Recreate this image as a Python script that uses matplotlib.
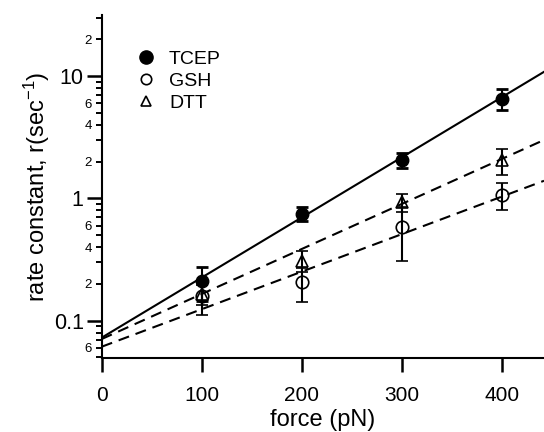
import numpy as np
import matplotlib
matplotlib.use("Agg")
import matplotlib.pyplot as plt
from matplotlib.lines import Line2D
from matplotlib.ticker import LogLocator, FixedLocator, FuncFormatter

plt.rcParams['font.family'] = ['Liberation Sans', 'DejaVu Sans']
plt.rcParams['mathtext.default'] = 'regular'
plt.rcParams['lines.scale_dashes'] = False

# ---- data ----
force = [100, 200, 300, 400]

tcep = [0.21, 0.745, 2.05, 6.55]
tcep_err_lo = [0.065, 0.095, 0.28, 1.29]
tcep_err_hi = [0.065, 0.10, 0.32, 1.28]

gsh = [0.16, 0.207, 0.58, 1.07]
gsh_err = [0.048, 0.064, 0.27, 0.26]

dtt = [0.165, 0.31, 0.93, 2.05]
dtt_err = [0.03, 0.06, 0.16, 0.50]

# exponential fits: log10(r) = a + b * force
tcep_fit = (-1.139, 0.004915)
dtt_fit = (-1.150, 0.00368)
gsh_fit = (-1.213, 0.003068)

x_limits = (0, 442.3)
y_limits = (0.0498, 31.6)
x_ticks = [0, 100, 200, 300, 400]
y_major = [0.1, 1, 10]
y_major_labels = ['0.1', '1', '10']

fig = plt.figure(figsize=(5.44, 4.32), dpi=100)
ax = fig.add_axes([101.7 / 544, (432 - 357.7) / 432, (544 - 101.7) / 544, (357.7 - 15) / 432])

xf = np.linspace(x_limits[0], x_limits[1], 100)
lw = 1.5
dash = (8, 5)
ax.plot(xf, 10 ** (tcep_fit[0] + tcep_fit[1] * xf), color='k', lw=lw, zorder=2)
ax.plot(xf, 10 ** (dtt_fit[0] + dtt_fit[1] * xf), color='k', lw=lw, dashes=dash, zorder=2)
ax.plot(xf, 10 ** (gsh_fit[0] + gsh_fit[1] * xf), color='k', lw=lw, dashes=dash, zorder=2)

eb_kw = dict(color='k', ecolor='k', elinewidth=1.5, capsize=4.5, capthick=2.0, ls='none')
ax.errorbar(force, dtt, yerr=dtt_err, marker='^', ms=9, mfc='none', mec='k', mew=1.2, zorder=3, **eb_kw)
ax.errorbar(force, gsh, yerr=gsh_err, marker='o', ms=9, mfc='none', mec='k', mew=1.2, zorder=3, **eb_kw)
ax.errorbar(force, tcep, yerr=[tcep_err_lo, tcep_err_hi], marker='o', ms=9, mfc='k', mec='k', zorder=4, **eb_kw)

ax.set_yscale('log')
ax.set_xlim(*x_limits)
ax.set_ylim(*y_limits)

ax.spines['top'].set_visible(False)
ax.spines['right'].set_visible(False)
ax.spines['left'].set_linewidth(1.5)
ax.spines['bottom'].set_linewidth(1.5)

ax.set_xticks(x_ticks)
ax.tick_params(axis='x', which='major', direction='out', length=10, width=1.8, labelsize=15, pad=10.5)

ax.yaxis.set_major_locator(FixedLocator(y_major))
ax.set_yticklabels(y_major_labels)
ax.yaxis.set_minor_locator(LogLocator(base=10, subs=np.arange(2, 10)))


def minor_fmt(v, pos):
    m = v / 10 ** np.floor(np.log10(v) + 1e-9)
    k = int(round(m))
    return str(k) if k in (2, 4, 6) else ''


ax.yaxis.set_minor_formatter(FuncFormatter(minor_fmt))
ax.tick_params(axis='y', which='major', direction='out', length=11, width=1.8, labelsize=15.5, pad=2)
ax.tick_params(axis='y', which='minor', direction='out', length=4, width=1.4, labelsize=9.5, pad=3)

ax.set_xlabel('force (pN)', fontsize=17, labelpad=3)
ax.set_ylabel('rate constant, r(sec$^{-1}$)', fontsize=17, labelpad=1)

handles = [
    Line2D([], [], marker='o', ls='none', color='k', mfc='k', ms=9.5),
    Line2D([], [], marker='o', ls='none', color='k', mfc='none', ms=7.5, mew=1.2),
    Line2D([], [], marker='^', ls='none', color='k', mfc='none', ms=7.5, mew=1.2),
]
ax.legend(handles, ['TCEP', 'GSH', 'DTT'], loc='upper left', frameon=False, fontsize=14,
          bbox_to_anchor=(136 / 544, 1 - 50 / 432), bbox_transform=fig.transFigure,
          handlelength=1.0, handletextpad=0.7, labelspacing=0.24, borderaxespad=0, borderpad=0)

fig.savefig('out.png', dpi=100)
